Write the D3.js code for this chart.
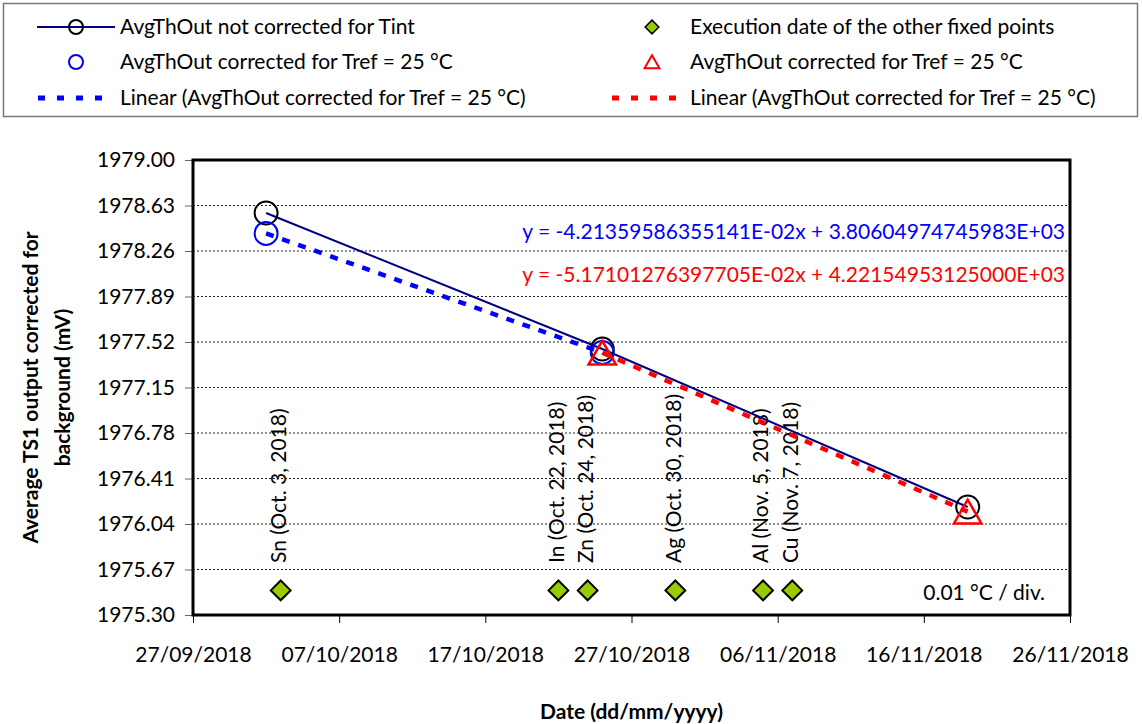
<!DOCTYPE html>
<html>
<head>
<meta charset="utf-8">
<script src="https://cdn.jsdelivr.net/npm/d3@7"></script>
<style>
  body { margin: 0; background: #fff; }
  svg text { font-family: Lato, "Open Sans", sans-serif; fill: #000; }
</style>
</head>
<body>
<div id="main-chart"></div>
<script>
// data
const seriesDates = ["02/10/2018", "25/10/2018", "19/11/2018"];
const notCorrected = [1978.569, 1977.463, 1976.178];
const blueDates = ["02/10/2018", "25/10/2018"];
const blueValues = [1978.403, 1977.434];
const redDates = ["25/10/2018", "19/11/2018"];
const redValues = [1977.433, 1976.141];
const fixedNames = ["Sn", "In", "Zn", "Ag", "Al", "Cu"];
const fixedDates = ["03/10/2018", "22/10/2018", "24/10/2018", "30/10/2018", "05/11/2018", "07/11/2018"];
const fixedLabels = ["Sn (Oct. 3, 2018)", "In (Oct. 22, 2018)", "Zn (Oct. 24, 2018)",
  "Ag (Oct. 30, 2018)", "Al (Nov. 5, 2018)", "Cu (Nov. 7, 2018)"];
const fixedLevel = 1975.5;
const xTickLabels = ["27/09/2018", "07/10/2018", "17/10/2018", "27/10/2018", "06/11/2018", "16/11/2018", "26/11/2018"];
const yTickLabels = ["1975.30", "1975.67", "1976.04", "1976.41", "1976.78", "1977.15",
  "1977.52", "1977.89", "1978.26", "1978.63", "1979.00"];
const blueEq = "y = -4.21359586355141E-02x + 3.80604974745983E+03";
const redEq = "y = -5.17101276397705E-02x + 4.22154953125000E+03";

const width = 1142;
const height = 724;
const margin = { top: 160, bottom: 109, left: 193, right: 72 };
const fs = 21;

const parse = d3.utcParse("%d/%m/%Y");
const pts = (ds, vs) => ds.map((d, i) => ({ date: parse(d), v: vs[i] }));

const svg = d3.select("#main-chart").append("svg")
  .attr("width", width).attr("height", height);

const x = d3.scaleUtc()
  .domain([parse(xTickLabels[0]), parse(xTickLabels[xTickLabels.length - 1])])
  .range([margin.left, width - margin.right]);
const y = d3.scaleLinear()
  .domain([+yTickLabels[0], +yTickLabels[yTickLabels.length - 1]])
  .range([height - margin.bottom, margin.top]);

// grid
svg.append("g")
  .selectAll("line")
  .data(yTickLabels.slice(1, -1))
  .join("line")
  .attr("x1", margin.left).attr("x2", width - margin.right)
  .attr("y1", (d) => y(+d)).attr("y2", (d) => y(+d))
  .attr("stroke", "#222").attr("stroke-width", 1)
  .attr("stroke-dasharray", "2,2");

// axes
const yAxis = svg.append("g")
  .attr("transform", `translate(${margin.left},0)`)
  .call(d3.axisLeft(y).tickValues(yTickLabels.map(Number)).tickFormat((d) => d.toFixed(2)).tickSize(8).tickPadding(10));
yAxis.select(".domain").remove();
yAxis.selectAll("line").attr("stroke", "#666");
yAxis.selectAll("text").attr("font-size", fs).attr("font-family", "Lato");

const xAxis = svg.append("g")
  .attr("transform", `translate(0,${height - margin.bottom})`)
  .call(d3.axisBottom(x).tickValues(xTickLabels.map(parse)).tickFormat(d3.utcFormat("%d/%m/%Y")).tickSize(8).tickPadding(24));
xAxis.select(".domain").remove();
xAxis.selectAll("line").attr("stroke", "#000");
xAxis.selectAll("text").attr("font-size", fs).attr("font-family", "Lato");

// plot frame
svg.append("rect")
  .attr("x", margin.left).attr("y", margin.top)
  .attr("width", width - margin.left - margin.right)
  .attr("height", height - margin.top - margin.bottom)
  .attr("fill", "none").attr("stroke", "#000").attr("stroke-width", 3);

// fixed point labels and diamonds
const fixed = pts(fixedDates, fixedDates.map(() => fixedLevel));
svg.append("g")
  .selectAll("text")
  .data(fixed)
  .join("text")
  .attr("transform", (d) => `translate(${x(d.date) - 2},563) rotate(-90)`)
  .attr("dy", "0.35em")
  .attr("font-size", fs)
  .text((d, i) => fixedLabels[i]);

const diamond = d3.symbol().type(d3.symbolDiamond2).size(250);
svg.append("g")
  .selectAll("path")
  .data(fixed)
  .join("path")
  .attr("d", diamond)
  .attr("transform", (d) => `translate(${x(d.date)},${y(d.v)})`)
  .attr("fill", "#99CC00").attr("stroke", "#000").attr("stroke-width", 2);

// uncorrected series
const black = pts(seriesDates, notCorrected);
const line = d3.line().x((d) => x(d.date)).y((d) => y(d.v));
svg.append("path").datum(black).attr("d", line)
  .attr("fill", "none").attr("stroke", "#000080").attr("stroke-width", 2);
svg.append("g").selectAll("circle").data(black).join("circle")
  .attr("cx", (d) => x(d.date)).attr("cy", (d) => y(d.v)).attr("r", 11.5)
  .attr("fill", "none").attr("stroke", "#000").attr("stroke-width", 2);

// corrected series
const blue = pts(blueDates, blueValues);
const red = pts(redDates, redValues);
svg.append("g").selectAll("circle").data(blue).join("circle")
  .attr("cx", (d) => x(d.date)).attr("cy", (d) => y(d.v)).attr("r", 11.5)
  .attr("fill", "none").attr("stroke", "#0000FF").attr("stroke-width", 2);

// triangle centred on its bounding box, like the spreadsheet marker
const triSize = 540;
const triShift = Math.sqrt(triSize) * 0.6824 / 4;
svg.append("g").selectAll("path").data(red).join("path")
  .attr("d", d3.symbol().type(d3.symbolTriangle2).size(triSize))
  .attr("transform", (d) => `translate(${x(d.date)},${y(d.v) + triShift})`)
  .attr("fill", "none").attr("stroke", "#FF0000").attr("stroke-width", 2.5);

// trend lines (least squares through the points)
function trend(data) {
  const xs = data.map((d) => +d.date), ys = data.map((d) => d.v);
  const mx = d3.mean(xs), my = d3.mean(ys);
  const b = d3.sum(xs, (v, i) => (v - mx) * (ys[i] - my)) / d3.sum(xs, (v) => (v - mx) ** 2);
  const [x0, x1] = d3.extent(xs);
  return [{ date: new Date(x0), v: my + b * (x0 - mx) }, { date: new Date(x1), v: my + b * (x1 - mx) }];
}
svg.append("path").datum(trend(blue)).attr("d", line)
  .attr("fill", "none").attr("stroke", "#0000FF").attr("stroke-width", 4.5).attr("stroke-dasharray", "8,9");
svg.append("path").datum(trend(red)).attr("d", line)
  .attr("fill", "none").attr("stroke", "#FF0000").attr("stroke-width", 4.5).attr("stroke-dasharray", "8,9");

// equations and note
svg.append("text").attr("x", 1065).attr("y", 239).attr("text-anchor", "end")
  .attr("font-size", fs).style("fill", "#0000FF").text(blueEq);
svg.append("text").attr("x", 1065).attr("y", 282).attr("text-anchor", "end")
  .attr("font-size", fs).style("fill", "#FF0000").text(redEq);
svg.append("text").attr("x", 1045).attr("y", 600).attr("text-anchor", "end")
  .attr("font-size", fs).text("0.01 °C / div.");

// axis titles
svg.append("text")
  .attr("transform", `translate(${(margin.left + width - margin.right) / 2},${height - 5})`)
  .attr("text-anchor", "middle").attr("font-size", fs).attr("font-weight", "bold")
  .text("Date (dd/mm/yyyy)");
const yt = svg.append("text")
  .attr("transform", `translate(38,${(margin.top + height - margin.bottom) / 2}) rotate(-90)`)
  .attr("text-anchor", "middle").attr("font-size", fs).attr("font-weight", "bold");
yt.append("tspan").attr("x", 0).attr("dy", 0).text("Average TS1 output corrected for");
yt.append("tspan").attr("x", 0).attr("dy", 32).text("background (mV)");

// legend
const lg = svg.append("g");
lg.append("rect").attr("x", 3.5).attr("y", 3.5).attr("width", 1134).attr("height", 113)
  .attr("fill", "#fff").attr("stroke", "#777").attr("stroke-width", 1.5);
const rows = [27, 62, 98];
const col1 = 76, col2 = 652;
lg.append("line").attr("x1", 37).attr("x2", 115).attr("y1", rows[0]).attr("y2", rows[0])
  .attr("stroke", "#000080").attr("stroke-width", 2);
lg.append("circle").attr("cx", col1).attr("cy", rows[0]).attr("r", 7)
  .attr("fill", "none").attr("stroke", "#000").attr("stroke-width", 2);
lg.append("circle").attr("cx", col1).attr("cy", rows[1]).attr("r", 7)
  .attr("fill", "none").attr("stroke", "#0000FF").attr("stroke-width", 2);
lg.append("line").attr("x1", 38).attr("x2", 110).attr("y1", rows[2]).attr("y2", rows[2])
  .attr("stroke", "#0000FF").attr("stroke-width", 5).attr("stroke-dasharray", "7,12");
lg.append("path").attr("d", d3.symbol().type(d3.symbolDiamond2).size(120))
  .attr("transform", `translate(${col2},${rows[0]})`)
  .attr("fill", "#99CC00").attr("stroke", "#000").attr("stroke-width", 1.5);
lg.append("path").attr("d", d3.symbol().type(d3.symbolTriangle2).size(160))
  .attr("transform", `translate(${col2},${rows[1] + 2})`)
  .attr("fill", "none").attr("stroke", "#FF0000").attr("stroke-width", 2);
lg.append("line").attr("x1", 612).attr("x2", 684).attr("y1", rows[2]).attr("y2", rows[2])
  .attr("stroke", "#FF0000").attr("stroke-width", 5).attr("stroke-dasharray", "7,12");
const legendTexts = [
  [120, rows[0], "AvgThOut not corrected for Tint"],
  [120, rows[1], "AvgThOut corrected for Tref = 25 °C"],
  [120, rows[2], "Linear (AvgThOut corrected for Tref = 25 °C)"],
  [690, rows[0], "Execution date of the other fixed points"],
  [690, rows[1], "AvgThOut corrected for Tref = 25 °C"],
  [690, rows[2], "Linear (AvgThOut corrected for Tref = 25 °C)"]
];
lg.selectAll("text.lt").data(legendTexts).join("text")
  .attr("class", "lt")
  .attr("x", (d) => d[0]).attr("y", (d) => d[1]).attr("dy", "0.35em")
  .attr("font-size", fs).text((d) => d[2]);
</script>
</body>
</html>
